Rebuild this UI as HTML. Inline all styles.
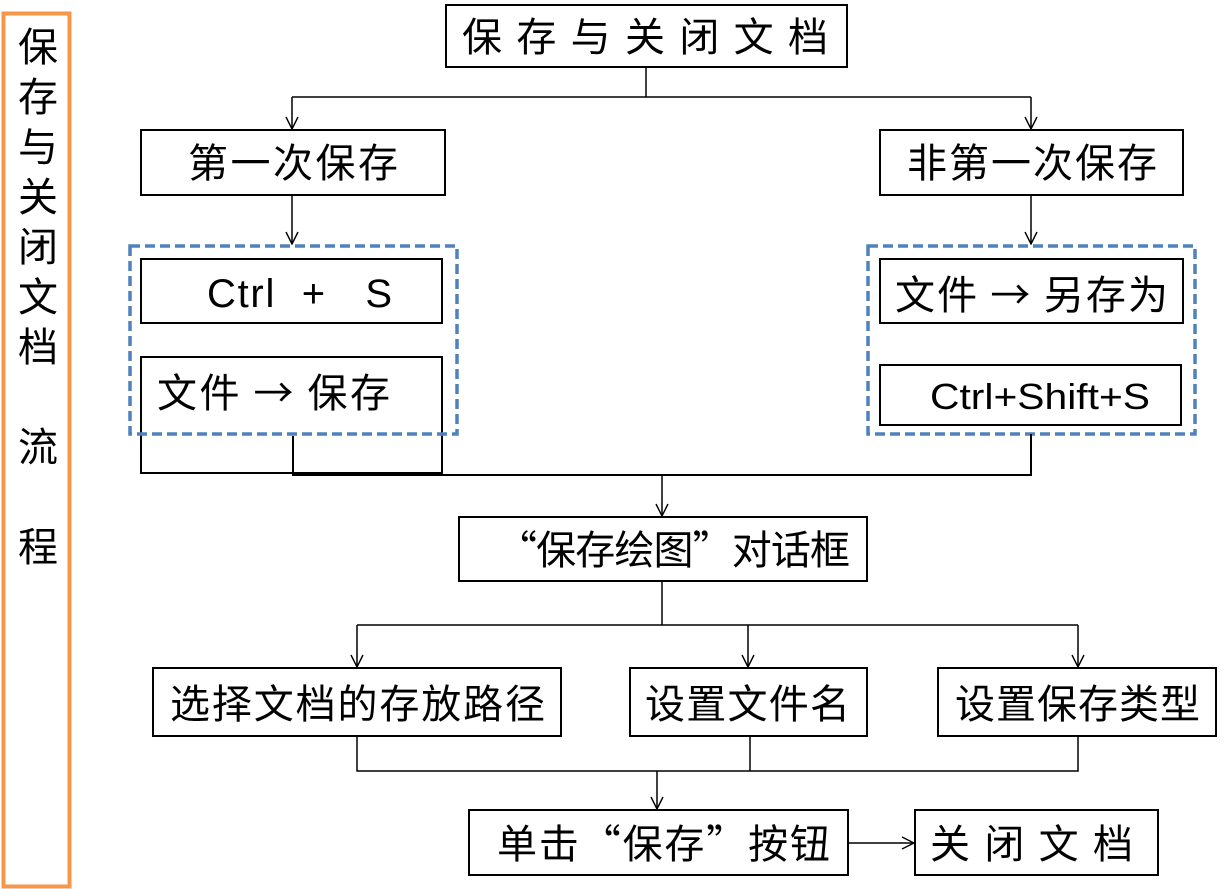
<!DOCTYPE html>
<html><head><meta charset="utf-8"><style>
html,body{margin:0;padding:0;background:#fff;width:1225px;height:889px;overflow:hidden}
text{font-family:"Liberation Sans","Noto Sans CJK SC",sans-serif;fill:#000}
.c{font-family:"Noto Sans CJK SC",sans-serif}
</style></head><body>
<svg width="1225" height="889" viewBox="0 0 1225 889" xmlns="http://www.w3.org/2000/svg">
<defs><marker id="a" markerWidth="14" markerHeight="14" refX="13" refY="7" orient="auto" markerUnits="userSpaceOnUse" viewBox="0 0 14 14"><path d="M1,1 L13,7 L1,13" fill="none" stroke="#000" stroke-width="1.4"/></marker></defs>
<rect x="3.5" y="13.5" width="66" height="873" fill="none" stroke="#f79646" stroke-width="4"/>
<g font-size="40" text-anchor="middle" class="c">
<text class="c" x="38" y="61">保</text><text class="c" x="38" y="111">存</text><text class="c" x="38" y="161">与</text><text class="c" x="38" y="211">关</text><text class="c" x="38" y="261">闭</text><text class="c" x="38" y="311">文</text><text class="c" x="38" y="361">档</text><text class="c" x="38" y="461">流</text><text class="c" x="38" y="561">程</text>
</g>
<g fill="#fff" stroke="#000" stroke-width="2">
<rect x="446" y="5" width="401" height="62"/>
<rect x="141" y="130" width="304" height="65"/>
<rect x="880" y="130" width="303" height="65"/>
<rect x="141" y="259" width="301" height="64"/>
<rect x="141" y="357" width="301" height="116"/>
<rect x="880" y="259" width="303" height="64"/>
<rect x="880" y="365" width="301" height="60"/>
<rect x="459" y="517" width="408" height="64"/>
<rect x="153" y="668" width="408" height="68"/>
<rect x="630" y="668" width="237" height="68"/>
<rect x="938" y="668" width="278" height="68"/>
<rect x="469" y="810" width="379" height="65"/>
<rect x="915" y="810" width="243" height="65"/>
</g>
<g fill="none" stroke="#4f81bd" stroke-width="3.5" stroke-dasharray="10,5">
<rect x="130" y="246" width="327" height="188"/>
<rect x="868" y="246" width="327" height="188"/>
</g>
<g fill="none" stroke="#000" stroke-width="1.5">
<path d="M646,67 V97 M292,97 H1031"/>
<path d="M292,97 V129" marker-end="url(#a)"/>
<path d="M1031,97 V129" marker-end="url(#a)"/>
<path d="M292,195 V244" marker-end="url(#a)"/>
<path d="M1031,195 V244" marker-end="url(#a)"/>
<path d="M293,436 V475 H1031 V434" stroke-width="2"/>
<path d="M662,475 V516" marker-end="url(#a)"/>
<path d="M662,581 V625 M357,625 H1078"/>
<path d="M357,625 V667" marker-end="url(#a)"/>
<path d="M748,625 V667" marker-end="url(#a)"/>
<path d="M1078,625 V667" marker-end="url(#a)"/>
<path d="M357,736 V771 H1078 V736 M750,736 V771"/>
<path d="M657,771 V809" marker-end="url(#a)"/>
<path d="M848,843 H914" marker-end="url(#a)"/>
</g>
<g font-size="40">
<text class="c" x="462" y="51" textLength="366" lengthAdjust="spacing">保存与关闭文档</text>
<text class="c" x="188" y="177" textLength="210" lengthAdjust="spacing">第一次保存</text>
<text class="c" x="907" y="177" textLength="250" lengthAdjust="spacing">非第一次保存</text>
<text x="207" y="307" textLength="185" lengthAdjust="spacing">Ctrl&#160;&#160;+&#160;&#160;&#160;S</text>
<text class="c" x="157" y="407" textLength="233" lengthAdjust="spacing">文件 → 保存</text>
<text class="c" x="895" y="309" textLength="273" lengthAdjust="spacing">文件 → 另存为</text>
<text x="930" y="409" font-size="36" textLength="220" lengthAdjust="spacingAndGlyphs">Ctrl+Shift+S</text>
<text class="c" x="497" y="564" textLength="353" lengthAdjust="spacing">“保存绘图”对话框</text>
<text class="c" x="170" y="718" textLength="375" lengthAdjust="spacing">选择文档的存放路径</text>
<text class="c" x="645" y="718" textLength="205" lengthAdjust="spacing">设置文件名</text>
<text class="c" x="955" y="718" textLength="245" lengthAdjust="spacing">设置保存类型</text>
<text class="c" x="497" y="858" textLength="333" lengthAdjust="spacing">单击“保存”按钮</text>
<text class="c" x="930" y="858" textLength="203" lengthAdjust="spacing">关闭文档</text>
</g>
</svg>
</body></html>
